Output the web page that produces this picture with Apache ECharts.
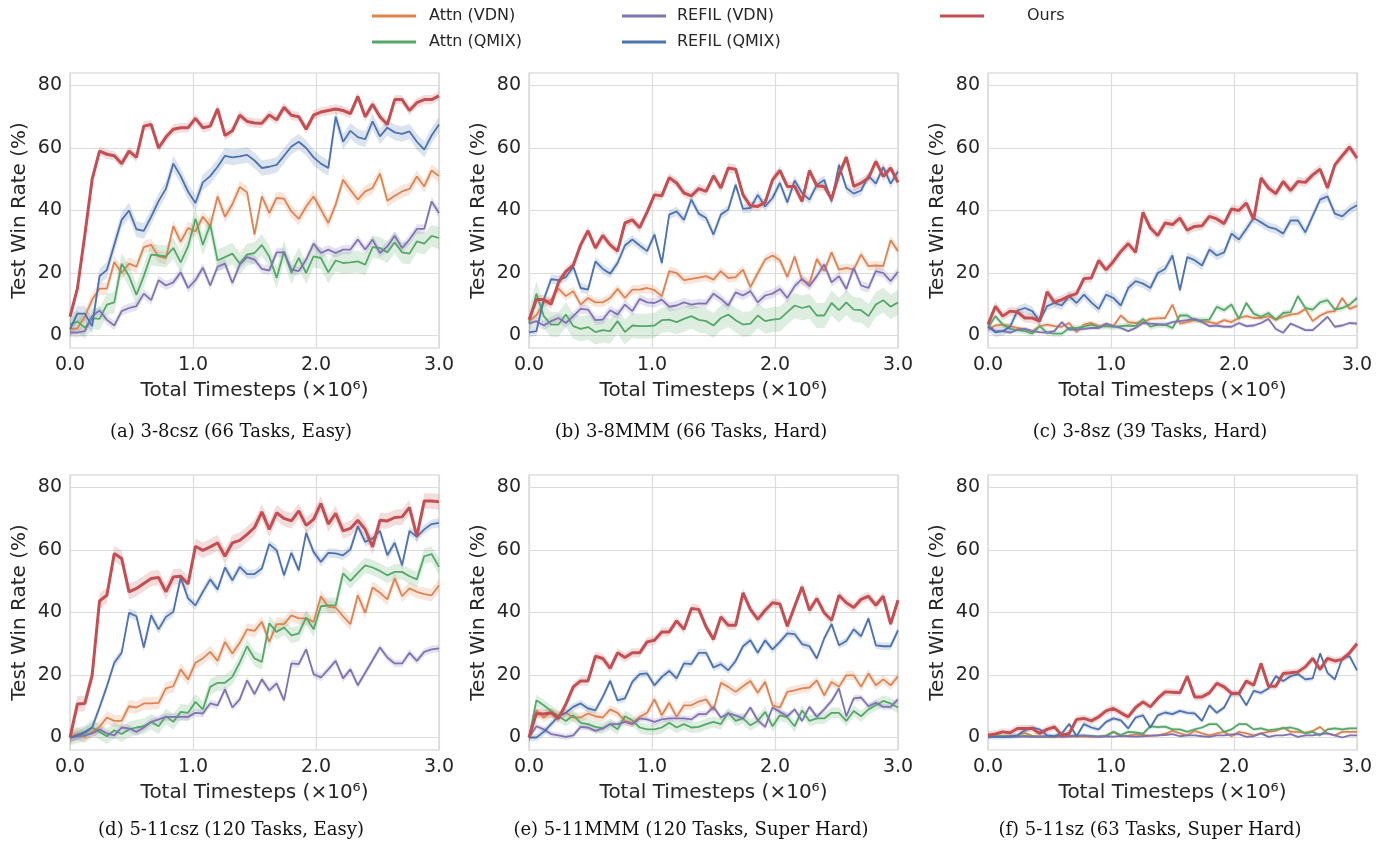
<!DOCTYPE html>
<html>
<head>
<meta charset="utf-8">
<script src="https://cdn.jsdelivr.net/npm/echarts@6/dist/echarts.min.js"></script>
<style>
  html, body { margin: 0; padding: 0; background: #fff; }
  #chart { width: 1396px; height: 846px; }
</style>
</head>
<body>
<div id="chart"></div>
<script>
// timesteps (x1e6)
const steps = [0, 0.06, 0.12, 0.18, 0.24, 0.3, 0.36, 0.42, 0.48, 0.54,
  0.6, 0.66, 0.72, 0.78, 0.84, 0.9, 0.96, 1.02, 1.08, 1.14,
  1.2, 1.26, 1.32, 1.38, 1.44, 1.5, 1.56, 1.62, 1.68, 1.74,
  1.8, 1.86, 1.92, 1.98, 2.04, 2.1, 2.16, 2.22, 2.28, 2.34,
  2.4, 2.46, 2.52, 2.58, 2.64, 2.7, 2.76, 2.82, 2.88, 2.94,
  3.0]

const methodNames = ['Attn (VDN)', 'Attn (QMIX)', 'REFIL (VDN)', 'REFIL (QMIX)', 'Ours']
const methodColors = ['#DD8452', '#55A868', '#8172B3', '#4C72B0', '#C44E52']
const yTicks = [0, 20, 40, 60, 80]

// (a) 3-8csz
const aAttnVdn = [2, 2.3, 6, 11.5, 15, 15, 23.5, 20, 23, 22,
  28.3, 29, 25.3, 24.8, 35, 30, 34.4, 33.3, 38, 35,
  44.5, 38, 42, 47.5, 45.8, 32.3, 44.5, 39.2, 44, 43.8,
  39.7, 37.3, 41.3, 44.5, 40.3, 36, 41.9, 49.8, 46.6, 43.5,
  46.1, 47.2, 51.8, 43.1, 44.7, 46.1, 46.9, 50.9, 47.7, 52.8,
  51]
const aAttnQmix = [3.5, 4.5, 2.5, 5.5, 5.3, 9.9, 10.6, 23, 19, 13,
  19, 25.9, 25.6, 25.3, 28, 23.4, 28.5, 37.4, 29, 35.5,
  24, 25.1, 26.2, 23, 25.9, 26.4, 29, 25.3, 18.4, 26.9,
  20, 24.8, 20, 25.3, 24.8, 20.2, 24, 23.2, 23.4, 23.7,
  22.7, 28.3, 28, 26.6, 29.8, 26.6, 26.2, 30.1, 29.4, 31.9,
  31.2]
const aRefilVdn = [1, 0.9, 1.4, 6.2, 8, 5, 3.2, 7.8, 8.8, 9.4,
  13.4, 11.3, 17.7, 16, 17, 20.2, 15.2, 17.7, 21.7, 16,
  22, 23, 16.8, 22.7, 25.1, 24.3, 21.3, 20.8, 26.6, 26.6,
  21.1, 20.6, 24.3, 29.4, 26.4, 27.5, 26.4, 27.5, 27.5, 30.7,
  27.5, 30.7, 26.4, 28.5, 31.9, 28, 30.7, 34.1, 34.1, 42.9,
  39.2]
const aRefilQmix = [2, 7, 7, 3, 19, 21, 29, 37, 40, 34,
  33.5, 38, 43, 47, 55, 51, 46, 42.4, 49, 51,
  54, 57.5, 57, 57.3, 57.8, 56, 53.6, 54, 54.6, 57.5,
  60.5, 62, 60, 57, 55, 53.6, 70, 62, 65.5, 63.5,
  62.8, 68.5, 63.7, 66.5, 65, 64.5, 65.3, 62, 59.5, 64,
  67.5]
const aOurs = [6, 15, 32, 50, 59, 58, 57.5, 55, 59, 57,
  67, 67.5, 60, 63.5, 66, 66.5, 66.5, 69.5, 66.5, 67,
  72.5, 64, 65.5, 70.5, 68.5, 68, 67.9, 70.6, 69, 73,
  70.5, 70, 66, 70.5, 71.5, 72, 72.5, 72, 71, 76.5,
  70, 74, 70, 67.5, 75.5, 75.5, 72, 74.5, 75.5, 75.5,
  76.7]

// (b) 3-8MMM
const bAttnVdn = [4.6, 6.5, 10.4, 11.5, 15, 12.6, 14.2, 9.9, 12, 10.6,
  10.6, 12, 14.9, 12, 14.7, 14.7, 15.2, 14.5, 12.6, 20.6,
  20, 17.7, 18.1, 18.5, 19, 17.9, 20.6, 18.4, 18.7, 21.1,
  15.5, 20, 24.3, 25.6, 24.1, 18.7, 25.3, 17.7, 16.6, 24.5,
  20.6, 26.6, 21.1, 21.6, 21.1, 25.9, 22.2, 22.4, 22.2, 30.5,
  27]
const bAttnQmix = [4, 13.4, 6.2, 3.5, 3.5, 6.7, 3, 2.1, 2.7, 1.1,
  1.7, 1.4, 4.6, 1.1, 3.2, 3, 3, 3.2, 4.9, 5.1,
  4.3, 5.3, 6.2, 5, 4.6, 3.2, 5.6, 6.7, 4.9, 3.5,
  3.8, 6.4, 4.6, 5.1, 5.3, 7.5, 9.6, 8.8, 9.4, 6.4,
  6.4, 10.4, 8.1, 10.6, 8.3, 8.1, 6.2, 9.9, 11.3, 9.2,
  10.6]
const bRefilVdn = [3.8, 4.6, 3.2, 4.6, 5.6, 4, 6.2, 8.5, 8.3, 4.9,
  5.1, 8.1, 6.7, 9.9, 7.8, 11.7, 10.6, 10.4, 11.5, 9.2,
  9.6, 10.6, 9.9, 10.3, 10.2, 13.4, 11.7, 9.6, 13.8, 12.8,
  14.2, 10.6, 12.8, 13.4, 14.9, 12, 15.8, 18.1, 15.8, 19,
  22.7, 17, 19, 14.9, 21.6, 16, 15.2, 20.6, 20, 17.4,
  20.4]
const bRefilQmix = [1, 1.4, 11.5, 18, 17.7, 18.7, 22, 15.2, 14.7, 23.7,
  21.3, 19.8, 23.2, 28.8, 30.7, 28.8, 27, 32.3, 23.2, 38.7,
  39.7, 37, 43.5, 39, 37.6, 32.3, 38.7, 40.3, 48.2, 40.5,
  40.8, 45, 41.3, 44, 48.8, 42.6, 49.6, 45.6, 43.5, 48.2,
  49.8, 42.9, 54.6, 47.2, 45.4, 46.4, 51.1, 48.6, 53.9, 48.6,
  52.5]
const bOurs = [5, 11.5, 11.5, 10, 17, 20.5, 22.5, 29, 33.5, 28,
  32, 29, 27, 36, 37, 34.5, 39.5, 45, 44.7, 50.5,
  48.8, 45.6, 44.7, 47, 46.1, 51.1, 47.2, 53.6, 53.2, 45,
  41.5, 41.3, 42.6, 49.8, 52.8, 47.7, 47.7, 42.9, 52.8, 47.9,
  47.7, 43.7, 51.4, 57.1, 47.7, 48.8, 50.4, 55.7, 50.9, 53.6,
  49]

// (c) 3-8sz
const cAttnVdn = [1.9, 3.2, 3.5, 3, 2.4, 1.9, 1.4, 3, 3.5, 3,
  2.8, 4, 1.1, 3.5, 4, 3, 3.2, 3, 6.4, 4.3,
  4, 4.3, 5.3, 5.5, 5.6, 9.9, 3.8, 4.3, 4.9, 4.6,
  4.3, 3.8, 4.9, 4.3, 5.6, 6.2, 5.6, 5.6, 6.2, 5.1,
  6, 6.7, 7, 8.5, 4.6, 6.4, 7.5, 7.8, 12, 8.5,
  9.5]
const cAttnQmix = [2.4, 6.2, 3.5, 2.1, 1.7, 1.4, 0.6, 3, 0.9, 0.6,
  0.6, 2.4, 2.4, 2.8, 3.5, 2.8, 3, 2.8, 3, 3.2,
  3, 5.3, 2.8, 3.4, 3.5, 2.4, 6.4, 6.4, 4.9, 4.9,
  5.1, 9.2, 8.1, 9.9, 5.3, 10.4, 7, 6, 7.2, 5.1,
  7.2, 7.5, 12.6, 8.8, 8.3, 10.6, 11.3, 8.3, 8.8, 9.9,
  12]
const cRefilVdn = [3.2, 1.4, 1.4, 0.9, 1.9, 2.1, 1.4, 1.1, 0.9, 1.4,
  4.3, 1.9, 1.9, 2.1, 2.4, 2.4, 3.8, 3, 2.4, 1.4,
  2.4, 4, 3.8, 3.6, 3.5, 4.3, 4.6, 4.9, 5.3, 4.3,
  3, 3.2, 2.8, 2.8, 4, 3, 3.2, 4, 5.3, 2.1,
  0.9, 3.8, 2.8, 1.7, 1.7, 3.8, 6, 2.8, 3.2, 4,
  3.8]
const cRefilQmix = [2.8, 1, 1.4, 2.8, 8, 8.8, 7.8, 4.6, 9.4, 10.4,
  9.6, 12.6, 10.4, 13.1, 10.6, 8.5, 13.1, 12, 9.6, 15.2,
  17.4, 16.6, 15.2, 20, 21.3, 25.6, 14.5, 25.1, 24.1, 22.4,
  27.5, 25.6, 26.6, 32.6, 30.7, 34.1, 37.6, 36.2, 34.7, 34.1,
  32.6, 36.8, 36.8, 33, 38.3, 43.5, 44.5, 39, 38.1, 40.3,
  41.7]
const cOurs = [3.5, 9.3, 6.2, 7.8, 7.5, 5.6, 5.6, 4.6, 14, 10.6,
  11.5, 12.6, 13.4, 18.2, 18.4, 24, 21, 23.7, 26.9, 29.4,
  26.6, 39.4, 34.4, 32, 36, 35.5, 37.6, 33.7, 34.9, 35.1,
  38.1, 37.3, 35.8, 40.5, 40, 42.4, 37.1, 50.4, 47.2, 45.4,
  49.3, 46.4, 49.3, 49, 51.4, 53.2, 47.2, 54.6, 57.5, 60.3,
  56.8]

// (d) 5-11csz
const dAttnVdn = [0, 1.3, 0.2, 1.8, 3.4, 6.4, 5.3, 5.3, 10, 9.6,
  10.9, 10.9, 11.1, 15.7, 16.4, 21.8, 18.6, 23.9, 25.3, 27.4,
  24.5, 30.6, 26.9, 30.3, 34.6, 34.1, 37, 30.6, 36.3, 36.3,
  39.1, 38.1, 38.1, 37, 45.2, 41.8, 41.6, 38.8, 36.3, 45.5,
  39.9, 48, 46.3, 44.2, 50.9, 45.2, 47.7, 46.6, 45.9, 45.5,
  48.7]
const dAttnQmix = [0, 0.7, 1.3, 3.2, 1.8, 0.4, 2.3, 1.1, 2.6, 3.2,
  3.6, 5, 3.6, 6.8, 5, 8.2, 7.9, 11.4, 9, 16.2,
  17.5, 17.5, 19.4, 24, 29.2, 25.3, 24.2, 36.5, 33.8, 35.2,
  32.7, 33.3, 38.4, 34.6, 42, 42.3, 42.3, 52.5, 50.1, 52.7,
  55.1, 54.4, 53.3, 51.9, 53, 53, 51.6, 50.6, 58, 58.7,
  54.6]
const dRefilVdn = [0, 0.4, 0.7, 1.3, 2.6, 1.3, 0.7, 3.2, 2.9, 1.8,
  3.2, 5, 5.8, 6.6, 6.6, 6.6, 6.6, 7.9, 7.7, 10.9,
  10.3, 15.4, 9.6, 12.2, 18.3, 13.9, 18.6, 15.1, 17.3, 11.9,
  23.7, 23.5, 28.2, 20.3, 19.2, 21.8, 24.5, 18.9, 21.8, 16.7,
  20.7, 24.7, 28.8, 25.6, 23.7, 23.7, 27.1, 24.5, 27.4, 28.2,
  28.5]
const dRefilQmix = [0, 0.7, 1.8, 3.2, 9.6, 16.4, 23.9, 27.1, 39.9, 38.8,
  28.8, 39.1, 34.6, 38.6, 40.2, 51.2, 44.5, 42.3, 46.6, 50.6,
  47.4, 54.4, 50.3, 54.6, 52.3, 52.3, 54.1, 61.9, 59.9, 51.9,
  59.1, 53.5, 65.5, 59.4, 56.2, 59.1, 58.9, 58.3, 60.2, 67.6,
  62.6, 63.7, 66.1, 58.3, 62.3, 55.1, 66.1, 64.2, 66.6, 68.3,
  68.7]
const dOurs = [0, 10.7, 10.9, 19.9, 43.7, 45.5, 58.9, 57.3, 46.6, 47.7,
  49.3, 50.9, 51.2, 46.6, 51.4, 51.6, 49.1, 61.2, 59.9, 61,
  62.3, 58, 62.3, 63.1, 65, 67.2, 72.2, 66.6, 71.9, 70.1,
  69.3, 72.5, 67.9, 69.8, 74.9, 68.3, 71.7, 66.1, 66.9, 69.5,
  66.6, 61, 69.5, 69.3, 70.4, 70.6, 73.6, 64.4, 75.7, 75.7,
  75.4]

// (e) 5-11MMM
const eAttnVdn = [0, 8.7, 6.4, 7.9, 7.1, 7.9, 6.4, 6.4, 7.7, 6.8,
  6.4, 9, 7.9, 5.3, 4.7, 6.6, 7.9, 12.2, 7.1, 11.1,
  6.6, 10.3, 10.3, 11.5, 12.2, 8.7, 17.5, 16.2, 14.6, 16.4,
  18.1, 14.3, 17.8, 10.3, 9.6, 14.6, 15.1, 15.7, 16, 18.3,
  13.5, 17.8, 16.2, 19.9, 19.9, 16.2, 20.5, 16.7, 18.6, 16.7,
  19.6]
const eAttnQmix = [0, 11.9, 10.3, 8.5, 6.8, 5.3, 7.1, 4.7, 4.3, 3.4,
  2.9, 4.3, 2.6, 6.8, 5.5, 3.2, 2.6, 2.6, 3.2, 4.7,
  3.2, 4.3, 3.2, 3.4, 4.3, 5, 4.3, 7.9, 5.3, 6.1,
  3.9, 5.3, 8.2, 3.6, 7.1, 6.4, 3.6, 8.7, 5.3, 6.1,
  6.1, 7.9, 7.9, 5.3, 8.5, 6.8, 9, 10.3, 11.7, 10.9,
  9.6]
const eRefilVdn = [0, 3.6, 2.6, 1.1, 0.7, 0.2, 0.7, 3.4, 3.2, 2.1,
  2.9, 4.3, 4.3, 5, 4.3, 6.1, 5.8, 5, 5.8, 6.1,
  6.1, 6.1, 5.8, 7.5, 7.5, 9.8, 6.4, 7.7, 7.1, 6.1,
  9.6, 5.5, 3.4, 9.6, 8.2, 6.8, 9, 5.3, 9.8, 6.6,
  9, 11.7, 15.7, 6.8, 12.5, 12.8, 10, 11.1, 9.8, 9.8,
  12.2]
const eRefilQmix = [0, 0, 1.8, 4.3, 6.8, 7.9, 9.8, 10.9, 9.3, 8.7,
  13, 18.1, 11.9, 12.5, 17.8, 20.3, 20.5, 16.7, 19.4, 21.3,
  18.9, 23.7, 23.5, 27.1, 27.1, 22.4, 23.5, 21.5, 24.5, 29.2,
  31.1, 27.1, 31.1, 28.2, 30.6, 33.3, 33.1, 29.9, 29.2, 25.3,
  31.7, 36.3, 29.5, 30.9, 34.6, 32.4, 38.1, 29.5, 29.2, 29.2,
  34.3]
const eOurs = [0, 7.7, 7.5, 7.9, 6.1, 10.7, 16.2, 18.1, 18.1, 26,
  25.3, 22.1, 27.1, 25.6, 27.1, 27.1, 30.6, 31.1, 33.8, 33.8,
  37.3, 34.6, 41.3, 41, 35.4, 31.4, 38.6, 35.9, 35.9, 46.3,
  41, 37.8, 40.7, 43.1, 42.7, 35.6, 42, 48.2, 40.7, 44.5,
  39.9, 37.5, 45.5, 43.1, 41.6, 44.2, 45.2, 42.3, 45.2, 36.3,
  43.9]

// (f) 5-11sz
const fAttnVdn = [0.8, 0.6, 0.4, 0.5, 0.6, 1.5, 0.5, 0.3, 0.3, 0.2,
  0.3, 0.4, 0.3, 0.3, 0.2, 0.3, 0.5, 1.8, 0.4, 0.6,
  1, 0.8, 0.5, 0.7, 1.2, 2.1, 1.3, 0.7, 2.1, 1.3,
  0.7, 1.3, 1.8, 0.4, 1.8, 1.3, 0.7, 1.3, 1.8, 2.1,
  3.2, 1.8, 1.8, 1.5, 2.1, 3.4, 1.3, 0.7, 1.8, 1.8,
  1.8]
const fAttnQmix = [0.7, 0.7, 0.4, 0.3, 0.3, 0.5, 0.4, 0.3, 0.3, 0.5,
  0.7, 0.6, 0.6, 0.7, 0.5, 0.3, 0.6, 1.8, 0.8, 1.8,
  1.6, 1.2, 3.6, 3.3, 3.5, 2.6, 2.6, 1.8, 2.6, 3.2,
  4.3, 4.3, 1.8, 2.6, 4.3, 4.3, 2.6, 2.9, 2.3, 2.6,
  2.9, 3.2, 2.6, 1.3, 1.8, 0.7, 2.6, 2.9, 2.6, 2.9,
  2.9]
const fRefilVdn = [0.3, 0.2, 0.2, 0.2, 0.3, 0.3, 0.2, 0.3, 0.4, 0.3,
  0.3, 0.4, 0.5, 0.6, 0.4, 0.3, 0.4, 0.3, 0.5, 0.4,
  0.3, 0.4, 0.6, 0.7, 0.8, 1.1, 0.4, 0.7, 0.7, 0.4,
  0.2, 0.7, 0.7, 1, 1.1, 0.2, 0.4, 1.3, 0.2, 0.7,
  0.7, 1.1, 0.2, 0.7, 0.7, 1.1, 1.3, 0.7, 0, 0.7,
  0.7]
const fRefilQmix = [0.2, 0.2, 0.2, 0.4, 0.7, 2.3, 3.2, 2.6, 0.7, 0.4,
  1.3, 4.3, 0.4, 4.3, 3.2, 2.6, 5, 6.1, 5.5, 2.9,
  6.4, 7.1, 3.2, 7.1, 8, 7.5, 8.5, 7.9, 7.7, 5.3,
  10.3, 7.9, 9.6, 14.1, 14.1, 10.3, 14.9, 14.3, 15.7, 19.6,
  18.1, 19.6, 20.3, 18.6, 18.9, 26.9, 20.7, 18.6, 25.3, 26,
  21.5]
const fOurs = [0.7, 1.1, 1.8, 1.5, 2.9, 2.9, 2.9, 1.3, 2.6, 3.4,
  0.7, 1.3, 5.8, 6.1, 5.3, 6.6, 8.5, 9.3, 7.9, 6.6,
  9.6, 11.4, 9.8, 12.5, 14.6, 14.5, 14.3, 19.6, 13, 13,
  14.3, 17.3, 16.2, 14.1, 14.1, 18.1, 16.7, 23.7, 16.4, 16.4,
  20.5, 20.7, 21, 22.6, 25.3, 21.8, 25.3, 24.5, 25, 27.1,
  30]

// shaded spread (half width) per method
const aSpread = [2, 3.5, 1.5, 2.5, 1.5]
const bSpread = [1.5, 4, 1.5, 1.5, 1.5]
const cSpread = [0.8, 1, 0.6, 1.5, 1.5]
const dSpread = [2, 2.5, 1.2, 1.5, 2.5]
const eSpread = [1.5, 1.8, 1, 1.2, 1.5]
const fSpread = [0.5, 0.6, 0.3, 0.8, 1.2]

const panels = [
  { caption: '(a) 3-8csz (66 Tasks, Easy)', lines: [aAttnVdn, aAttnQmix, aRefilVdn, aRefilQmix, aOurs], spread: aSpread },
  { caption: '(b) 3-8MMM (66 Tasks, Hard)', lines: [bAttnVdn, bAttnQmix, bRefilVdn, bRefilQmix, bOurs], spread: bSpread },
  { caption: '(c) 3-8sz (39 Tasks, Hard)', lines: [cAttnVdn, cAttnQmix, cRefilVdn, cRefilQmix, cOurs], spread: cSpread },
  { caption: '(d) 5-11csz (120 Tasks, Easy)', lines: [dAttnVdn, dAttnQmix, dRefilVdn, dRefilQmix, dOurs], spread: dSpread },
  { caption: '(e) 5-11MMM (120 Tasks, Super Hard)', lines: [eAttnVdn, eAttnQmix, eRefilVdn, eRefilQmix, eOurs], spread: eSpread },
  { caption: '(f) 5-11sz (63 Tasks, Super Hard)', lines: [fAttnVdn, fAttnQmix, fRefilVdn, fRefilQmix, fOurs], spread: fSpread }
]

const gridLefts = [70, 529, 988]
const gridTops = [73, 475]
const captionX = [231, 691, 1150]
const captionY = [432, 830]
const textColor = '#262626'

const grids = []
const xAxes = []
const yAxes = []
const series = []
const graphics = []

panels.forEach((p, i) => {
  const col = i % 3
  const row = Math.floor(i / 3)
  grids.push({
    left: gridLefts[col], top: gridTops[row], width: 369, height: 275,
    show: true, borderColor: '#cfcfcf', borderWidth: 1.2
  })
  xAxes.push({
    gridIndex: i, type: 'value', min: 0, max: 3, interval: 1,
    name: 'Total Timesteps (×10⁶)', nameLocation: 'middle', nameGap: 33,
    nameTextStyle: { fontSize: 20, color: textColor, fontFamily: 'DejaVu Sans' },
    axisLine: { show: false }, axisTick: { show: false },
    axisLabel: { formatter: v => v.toFixed(1), fontSize: 19, color: textColor, margin: 8, fontFamily: 'DejaVu Sans' },
    splitLine: { lineStyle: { color: '#dcdcdc', width: 1.2 } }
  })
  yAxes.push({
    gridIndex: i, type: 'value', min: -4, max: 84,
    name: 'Test Win Rate (%)', nameLocation: 'middle', nameGap: 40,
    nameTextStyle: { fontSize: 20, color: textColor, fontFamily: 'DejaVu Sans' },
    axisLine: { show: false },
    axisTick: { show: false, customValues: yTicks },
    axisLabel: { customValues: yTicks, fontSize: 19, color: textColor, margin: 8, fontFamily: 'DejaVu Sans' },
    splitLine: { lineStyle: { color: '#dcdcdc', width: 1.2 } }
  })

  p.lines.forEach((vals, j) => {
    const rows = steps.map((x, k) => [x, vals[k] - p.spread[j], vals[k] + p.spread[j]])
    series.push({
      type: 'custom', xAxisIndex: i, yAxisIndex: i, silent: true, z: 1,
      data: rows,
      renderItem: (params, api) => {
        if (params.dataIndex !== 0) return null
        const upper = rows.map(r => api.coord([r[0], r[2]]))
        const lower = rows.map(r => api.coord([r[0], r[1]])).reverse()
        return {
          type: 'polygon',
          shape: { points: upper.concat(lower) },
          style: { fill: methodColors[j], opacity: 0.2 }
        }
      }
    })
  })
  p.lines.forEach((vals, j) => {
    series.push({
      type: 'line', name: methodNames[j], xAxisIndex: i, yAxisIndex: i,
      data: steps.map((x, k) => [x, vals[k]]),
      symbol: 'none', silent: true, z: 3 + j,
      lineStyle: { color: methodColors[j], width: j === 4 ? 3 : 1.8 },
      itemStyle: { color: methodColors[j] }
    })
  })

  graphics.push({
    type: 'text', x: captionX[col], y: captionY[row],
    style: {
      text: p.caption, align: 'center', verticalAlign: 'middle',
      textAlign: 'center', textVerticalAlign: 'middle',
      fontSize: 18, fontFamily: 'DejaVu Serif', fill: '#111'
    }
  })
})

const legendPos = [
  { name: 'Attn (VDN)', left: 367, top: 3, pad: 8 },
  { name: 'Attn (QMIX)', left: 367, top: 29, pad: 8 },
  { name: 'REFIL (VDN)', left: 617, top: 3, pad: 6 },
  { name: 'REFIL (QMIX)', left: 617, top: 29, pad: 6 },
  { name: 'Ours', left: 935, top: 3, pad: 38 }
]
const legends = legendPos.map(l => ({
  data: [l.name], left: l.left, top: l.top, icon: 'rect',
  itemWidth: 44, itemHeight: 3, selectedMode: false,
  textStyle: { fontSize: 16, color: textColor, fontFamily: 'DejaVu Sans', padding: [0, 0, 0, l.pad] }
}))

const chart = echarts.init(document.getElementById('chart'))
chart.setOption({
  animation: false,
  backgroundColor: '#ffffff',
  legend: legends,
  grid: grids,
  xAxis: xAxes,
  yAxis: yAxes,
  series: series,
  graphic: graphics
})
</script>
</body>
</html>
